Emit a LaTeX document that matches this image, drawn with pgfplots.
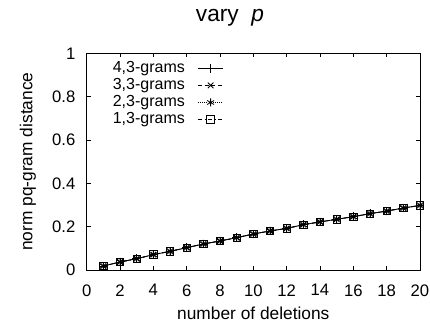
\documentclass[border=0pt]{standalone}
\usepackage{pgfplots}
\pgfplotsset{compat=1.18}
\usepackage{pgfplotstable}
\usepackage{fontspec}
\setmainfont{Liberation Sans}
\setsansfont{Liberation Sans}
\pgfplotstableread{
x y
1 0.018
2 0.037
3 0.052
4 0.071
5 0.086
6 0.103
7 0.120
8 0.134
9 0.149
10 0.166
11 0.180
12 0.192
13 0.209
14 0.222
15 0.234
16 0.246
17 0.260
18 0.272
19 0.286
20 0.298
}\datatab
\begin{document}
\begin{tikzpicture}
\begin{axis}[
  scale only axis,
  width=250pt, height=162.5pt,
  xmin=0, xmax=20, ymin=0, ymax=1,
  xtick={0,2,...,20},
  ytick={0,0.2,0.4,0.6,0.8,1},
  yticklabels={0,0.2,0.4,0.6,0.8,1},
  tick align=inside,
  major tick length=3pt,
  tick style={black, line width=0.5pt},
  axis line style={line width=0.7pt},
  font=\fontsize{13}{15}\selectfont,
  ticklabel style={font=\fontsize{12.5}{14}\selectfont},
  /pgf/number format/assume math mode=true,
  yticklabel style={xshift=-5pt},
  xticklabel style={yshift=-7.3pt},
  xlabel={number of deletions},
  ylabel={norm pq-gram distance},
  xlabel style={at={([yshift=-36.8pt]axis description cs:0.5,0)}, anchor=base},
  ylabel style={at={([xshift=-44pt]axis description cs:0,0.5)}, anchor=center},
  title={vary \ \textit{p}},
  title style={at={([yshift=17.8pt]axis description cs:0.43,1)}, anchor=base, font=\fontsize{17}{20}\selectfont},
  legend cell align=right,
  legend plot pos=right,
  legend style={draw=none, fill=none, at={(rel axis cs:0.424,0.978)}, anchor=north east,
    font=\fontsize{12}{14}\selectfont,
    nodes={inner sep=0pt, text height=8.5pt, text depth=2.5pt},
    row sep=1.8pt, column sep=9.5pt},
  legend image code/.code={\draw[mark repeat=2,mark phase=2] plot coordinates {(0cm,0cm) (0.335cm,0cm) (0.67cm,0cm)};},
  every axis plot/.append style={black, line width=0.6pt},
]
\addplot[solid, mark=+, mark size=3.2pt, mark options={solid}] table {\datatab};
\addlegendentry{4,3-grams}
\addplot[densely dashed, mark=x, mark size=3pt, mark options={solid}] table {\datatab};
\addlegendentry{3,3-grams}
\addplot[densely dotted, mark=asterisk, mark size=3pt, mark options={solid}] table {\datatab};
\addlegendentry{2,3-grams}
\addplot[dash dot, mark=square, mark size=2.8pt, mark options={solid}] table {\datatab};
\addlegendentry{1,3-grams}
\coordinate (sw) at (rel axis cs:0,0);
\coordinate (ne) at (rel axis cs:1,1);
\end{axis}
\pgfresetboundingbox
\path[use as bounding box] ([shift={(-65pt,-40.5pt)}]sw) rectangle ([shift={(7.5pt,40pt)}]ne);
\end{tikzpicture}
\end{document}
